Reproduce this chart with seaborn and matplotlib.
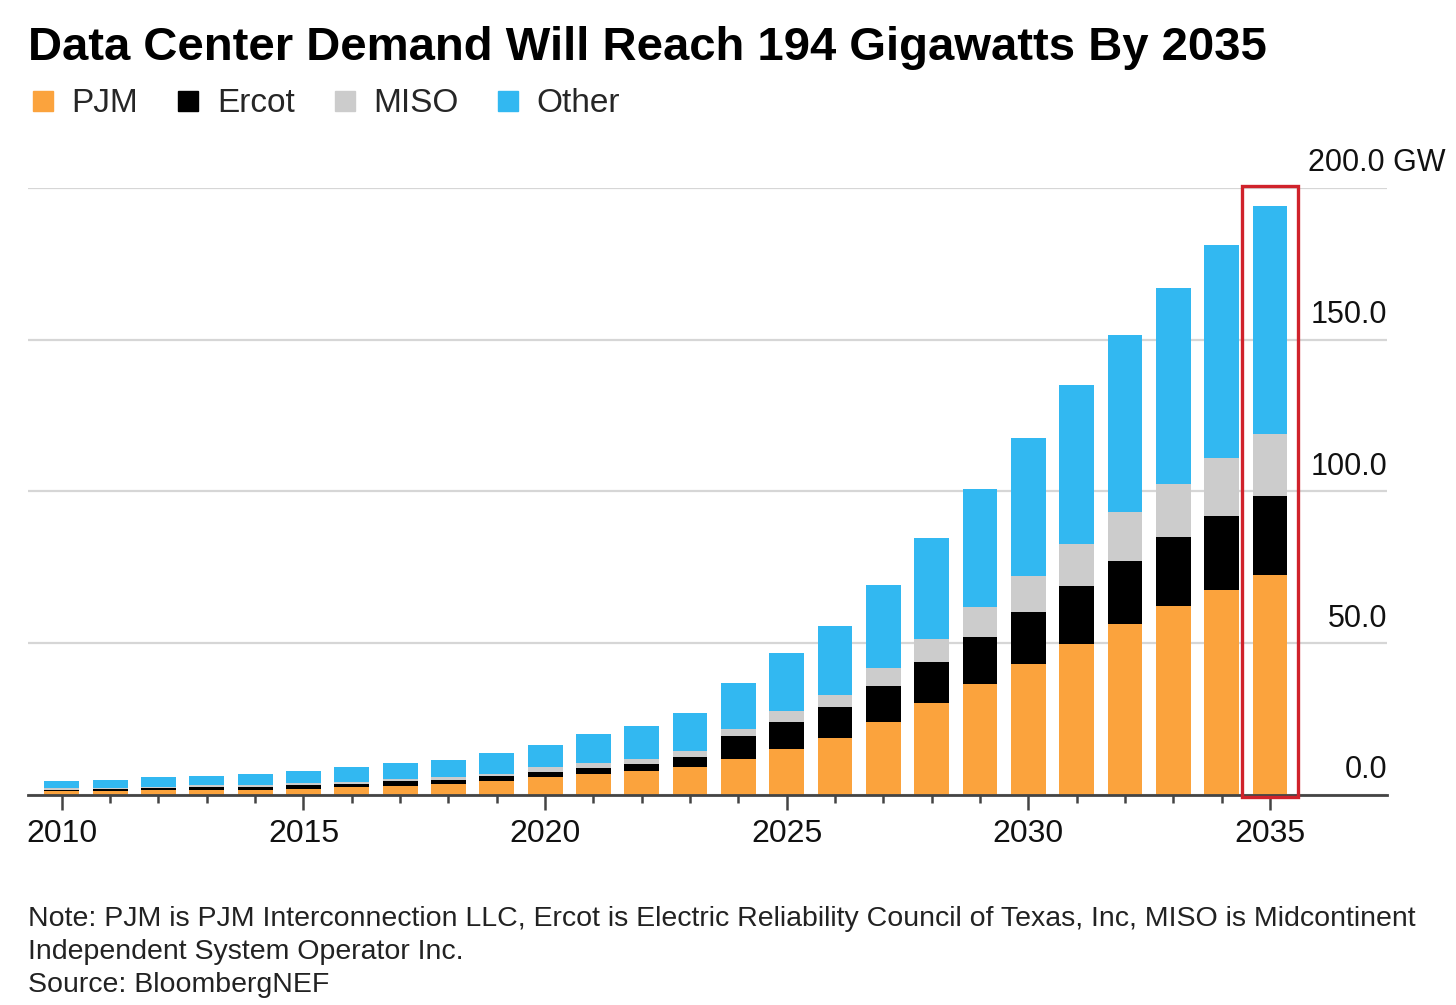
import numpy as np
import pandas as pd
import matplotlib
matplotlib.use("Agg")
import matplotlib.pyplot as plt
from matplotlib.lines import Line2D
from matplotlib.patches import Rectangle
import seaborn as sns

# values (GW)
years = list(range(2010, 2036))
pjm = [1.3, 1.4, 1.6, 1.7, 1.8, 2.1, 2.5, 3.0, 3.7, 4.5, 6.0, 6.9, 7.9, 9.3, 11.7,
       15.2, 18.7, 24.0, 30.2, 36.6, 43.1, 49.9, 56.4, 62.3, 67.6, 72.5]
ercot = [0.5, 0.6, 0.7, 1.0, 1.0, 1.2, 1.2, 1.5, 1.4, 1.6, 1.7, 1.9, 2.3, 3.1, 7.7,
         9.0, 10.3, 11.9, 13.6, 15.6, 17.1, 19.1, 20.7, 22.7, 24.4, 25.9]
miso = [0.4, 0.4, 0.5, 0.5, 0.6, 0.8, 0.7, 0.7, 0.7, 0.9, 1.4, 1.6, 1.6, 2.1, 2.3,
        3.5, 4.1, 5.8, 7.7, 9.7, 12.1, 13.8, 16.0, 17.5, 19.0, 20.6]
other = [2.5, 2.6, 3.0, 3.1, 3.4, 3.9, 4.7, 5.5, 5.7, 7.0, 7.3, 9.7, 10.9, 12.4, 15.2,
         19.1, 22.6, 27.4, 33.2, 38.9, 45.3, 52.2, 58.4, 64.6, 70.1, 75.0]

series = ["PJM", "Ercot", "MISO", "Other"]
colors = {"PJM": "#FBA33D", "Ercot": "#000000", "MISO": "#CCCCCC", "Other": "#32B8F1"}
y_ticks = [0, 50, 100, 150, 200]

df = pd.DataFrame({"year": years, "PJM": pjm, "Ercot": ercot, "MISO": miso, "Other": other})
# cumulative totals, drawn from the top layer down
cum = df[series].cumsum(axis=1)

sns.set_style("white")
plt.rcParams["font.family"] = ["Liberation Sans", "DejaVu Sans"]

fig = plt.figure(figsize=(14.56, 10.05), dpi=100)
ax = fig.add_axes([28 / 1456, 1 - 795 / 1005, (1387 - 28) / 1456, (795 - 188) / 1005])

for name in reversed(series):
    sns.barplot(x=df["year"], y=cum[name], native_scale=True, width=0.72,
                color=colors[name], saturation=1, linewidth=0, ax=ax, zorder=3)

ax.set_ylim(0, 200)
ax.set_xlim(years[0] - 0.70, years[-1] + 2.42)
ax.set_xlabel("")
ax.set_ylabel("")

# gridlines
ax.set_yticks(y_ticks)
ax.set_yticklabels([])
ax.tick_params(axis="y", length=0)
ax.yaxis.grid(True, color="#D6D6D6", lw=1.6, zorder=0)
ax.set_axisbelow(True)

for s in ["top", "right", "left"]:
    ax.spines[s].set_visible(False)
ax.spines["bottom"].set_color("#444444")
ax.spines["bottom"].set_linewidth(2)
ax.spines["bottom"].set_zorder(5)

major = [y for y in years if y % 5 == 0]
ax.set_xticks(major)
ax.set_xticklabels([str(y) for y in major], fontsize=23, color="#111111")
ax.set_xticks([y for y in years if y % 5 != 0], minor=True)
ax.tick_params(axis="x", which="major", length=11, width=1.8, color="#444444", pad=6, bottom=True)
ax.tick_params(axis="x", which="minor", length=6, width=1.8, color="#444444", bottom=True)

# right-side value labels sitting above the gridlines
for v in y_ticks:
    label = f"{v:.1f}"
    if v == y_ticks[-1]:
        ax.annotate(label + " GW", xy=(1.0, v), xycoords=("axes fraction", "data"),
                    xytext=(42, 12.5), textcoords="offset points", ha="right",
                    va="baseline", fontsize=22, color="#111111", annotation_clip=False)
    else:
        ax.annotate(label, xy=(1.0, v), xycoords=("axes fraction", "data"),
                    xytext=(0, 12), textcoords="offset points", ha="right",
                    va="baseline", fontsize=22, color="#111111")

# highlight box around the last year
last = years[-1]
ax.add_patch(Rectangle((last - 0.57, -0.8), 1.14, 201.6, fill=False,
                       edgecolor="#D0222B", lw=2.4, zorder=6, clip_on=False))

# title and legend
fig.text(28 / 1456, 1 - 60 / 1005, "Data Center Demand Will Reach 194 Gigawatts By 2035",
         fontsize=34, fontweight="bold", color="#000000", va="baseline", ha="left")

handles = [Line2D([], [], marker="s", ls="", markersize=14.5, color=colors[n]) for n in series]
fig.legend(handles, series, loc="center left", bbox_to_anchor=(30 / 1456, 1 - 104 / 1005),
           ncol=4, frameon=False, fontsize=24, handlelength=0.8, handletextpad=0.45,
           columnspacing=1.1, borderaxespad=0, borderpad=0)

note = ("Note: PJM is PJM Interconnection LLC, Ercot is Electric Reliability Council of Texas, Inc, MISO is Midcontinent\n"
        "Independent System Operator Inc.\n"
        "Source: BloombergNEF")
fig.text(28 / 1456, 1 - 906 / 1005, note, fontsize=20.5, color="#222222", va="top",
         ha="left", linespacing=1.34)

fig.savefig("out.png", dpi=100, facecolor="white")
